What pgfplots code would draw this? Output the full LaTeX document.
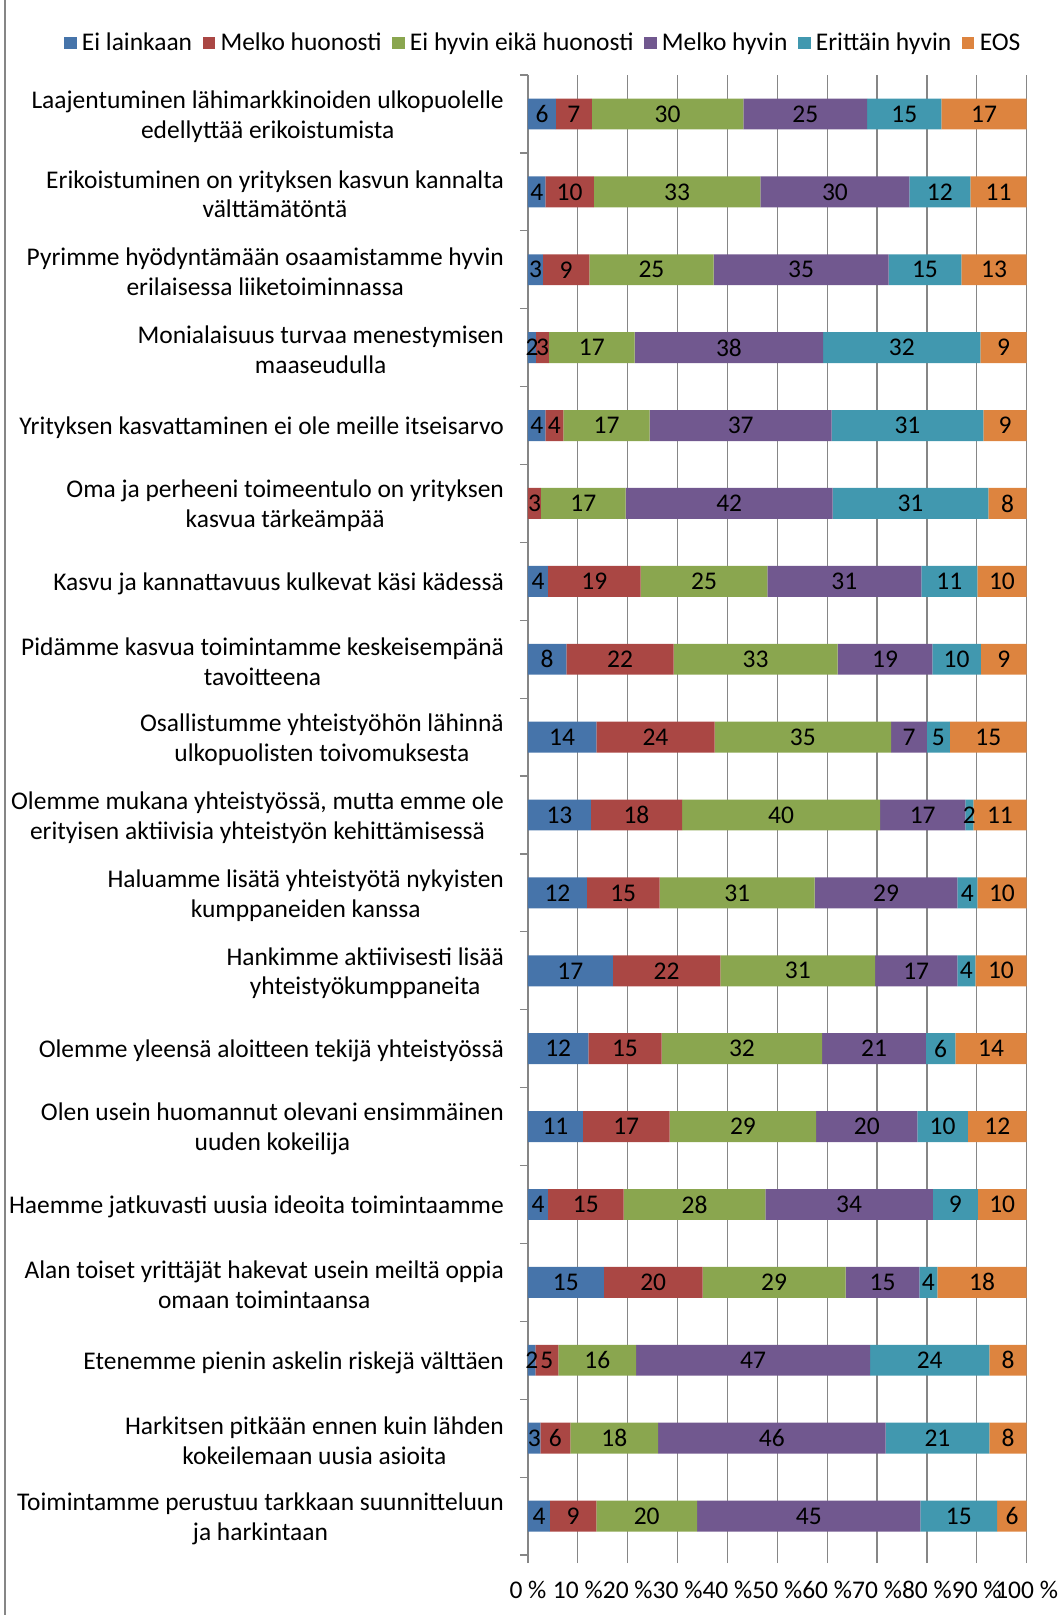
\documentclass[border=0pt]{standalone}
\usepackage{pgfplots}
\pgfplotsset{compat=1.18}
\usepackage{fontspec}
\setmainfont{Carlito}

\definecolor{cBlue}{RGB}{70,116,170}
\definecolor{cRed}{RGB}{170,71,68}
\definecolor{cGreen}{RGB}{138,166,79}
\definecolor{cPurple}{RGB}{113,88,143}
\definecolor{cTeal}{RGB}{65,152,175}
\definecolor{cOrange}{RGB}{221,132,63}
\definecolor{cGrid}{RGB}{134,134,134}

\newcommand{\lbl}{\fontsize{19.1}{22.4}\selectfont}

\begin{document}
\begin{tikzpicture}
  \begin{axis}[
    at={(0,0)}, anchor=south west,
    scale only axis,
    x=3.74pt, y=58.42pt,
    xbar stacked,
    bar width=23.2pt,
    xmin=0, xmax=100,
    ymin=-0.5, ymax=18.5,
    y dir=reverse,
    axis y line*=left,
    axis x line*=bottom,
    x axis line style={draw=none},
    y axis line style={draw=cGrid, line width=0.9pt},
    xtick={0,10,...,100},
    xticklabels={0 \%,10 \%,20 \%,30 \%,40 \%,50 \%,60 \%,70 \%,80 \%,90 \%,100 \%},
    ytick={0,...,18},
    yticklabels={
      {Laajentuminen lähimarkkinoiden ulkopuolelle\\edellyttää erikoistumista},
      {Erikoistuminen on yrityksen kasvun kannalta\\välttämätöntä},
      {Pyrimme hyödyntämään osaamistamme hyvin\\erilaisessa liiketoiminnassa},
      {Monialaisuus turvaa menestymisen\\maaseudulla},
      {Yrityksen kasvattaminen ei ole meille itseisarvo},
      {Oma ja perheeni toimeentulo on yrityksen\\kasvua tärkeämpää},
      {Kasvu ja kannattavuus kulkevat käsi kädessä},
      {Pidämme kasvua toimintamme keskeisempänä\\tavoitteena},
      {Osallistumme yhteistyöhön lähinnä\\ulkopuolisten toivomuksesta},
      {Olemme mukana yhteistyössä, mutta emme ole\\erityisen aktiivisia yhteistyön kehittämisessä},
      {Haluamme lisätä yhteistyötä nykyisten\\kumppaneiden kanssa},
      {Hankimme aktiivisesti lisää\\yhteistyökumppaneita},
      {Olemme yleensä aloitteen tekijä yhteistyössä},
      {Olen usein huomannut olevani ensimmäinen\\uuden kokeilija},
      {Haemme jatkuvasti uusia ideoita toimintaamme},
      {Alan toiset yrittäjät hakevat usein meiltä oppia\\omaan toimintaansa},
      {Etenemme pienin askelin riskejä välttäen},
      {Harkitsen pitkään ennen kuin lähden\\kokeilemaan uusia asioita},
      {Toimintamme perustuu tarkkaan suunnitteluun\\ja harkintaan}
    },
    minor ytick={-0.5,0.5,...,18.5},
    tick align=outside,
    major tick length=6pt,
    minor tick length=6pt,
    major y tick style={draw=none},
    minor y tick style={draw=cGrid, line width=0.9pt},
    major x tick style={draw=cGrid, line width=0.9pt},
    xmajorgrids,
    grid style={draw=cGrid, line width=0.9pt},
    tick label style={font=\lbl},
    yticklabel style={align=center, xshift=-8.6pt, yshift=-1.8pt},
    xticklabel style={yshift=-10pt},
    point meta=explicit symbolic,
    nodes near coords,
    every node near coord/.append style={font=\lbl, anchor=center, text=black},
    legend columns=-1,
    legend style={at={(axis description cs:0.034,1.0216)}, anchor=center,
      draw=none, font=\lbl, inner xsep=0pt,
      nodes={inner xsep=4pt},
      /tikz/every even column/.append style={column sep=4pt}},
    legend image code/.code={\fill[#1] (0pt,-4.6pt) rectangle (9.3pt,4.6pt);},
  ]
    \addplot[fill=cBlue, draw=none] coordinates {
      (5.6,0)[6] (3.5,1)[4] (3.0,2)[3] (1.6,3)[2] (3.5,4)[4] (0,5)[\relax]
      (4.0,6)[4] (7.7,7)[8] (13.7,8)[14] (12.6,9)[13] (11.8,10)[12] (17.0,11)[17]
      (12.1,12)[12] (11.0,13)[11] (4.0,14)[4] (15.2,15)[15] (1.5,16)[2] (2.5,17)[3] (4.4,18)[4]
    };
    \addplot[fill=cRed, draw=none] coordinates {
      (7.2,0)[7] (9.7,1)[10] (9.3,2)[9] (2.6,3)[3] (3.6,4)[4] (2.6,5)[3]
      (18.6,6)[19] (21.5,7)[22] (23.7,8)[24] (18.3,9)[18] (14.6,10)[15] (21.6,11)[22]
      (14.7,12)[15] (17.4,13)[17] (15.2,14)[15] (19.8,15)[20] (4.6,16)[5] (6.0,17)[6] (9.3,18)[9]
    };
    \addplot[fill=cGreen, draw=none] coordinates {
      (30.4,0)[30] (33.4,1)[33] (24.9,2)[25] (17.2,3)[17] (17.3,4)[17] (17.0,5)[17]
      (25.4,6)[25] (32.9,7)[33] (35.4,8)[35] (39.7,9)[40] (31.1,10)[31] (31.0,11)[31]
      (32.2,12)[32] (29.4,13)[29] (28.4,14)[28] (28.7,15)[29] (15.6,16)[16] (17.6,17)[18] (20.2,18)[20]
    };
    \addplot[fill=cPurple, draw=none] coordinates {
      (24.8,0)[25] (29.9,1)[30] (35.1,2)[35] (37.8,3)[38] (36.5,4)[37] (41.5,5)[42]
      (30.9,6)[31] (19.0,7)[19] (7.2,8)[7] (17.1,9)[17] (28.6,10)[29] (16.5,11)[17]
      (20.8,12)[21] (20.3,13)[20] (33.6,14)[34] (14.8,15)[15] (46.9,16)[47] (45.6,17)[46] (44.8,18)[45]
    };
    \addplot[fill=cTeal, draw=none] coordinates {
      (14.9,0)[15] (12.2,1)[12] (14.6,2)[15] (31.5,3)[32] (30.4,4)[31] (31.2,5)[31]
      (11.2,6)[11] (9.7,7)[10] (4.6,8)[5] (1.6,9)[2] (4.0,10)[4] (3.6,11)[4]
      (5.9,12)[6] (10.1,13)[10] (9.0,14)[9] (3.6,15)[4] (23.9,16)[24] (20.8,17)[21] (15.4,18)[15]
    };
    \addplot[fill=cOrange, draw=none] coordinates {
      (17.1,0)[17] (11.3,1)[11] (13.1,2)[13] (9.3,3)[9] (8.7,4)[9] (7.7,5)[8]
      (9.9,6)[10] (9.2,7)[9] (15.4,8)[15] (10.7,9)[11] (9.9,10)[10] (10.3,11)[10]
      (14.3,12)[14] (11.8,13)[12] (9.8,14)[10] (17.9,15)[18] (7.5,16)[8] (7.5,17)[8] (5.9,18)[6]
    };
    \legend{Ei lainkaan, Melko huonosti, Ei hyvin eikä huonosti, Melko hyvin, Erittäin hyvin, EOS}
  \end{axis}
  \draw[cGrid, line width=1.5pt] (-392.25pt,-45pt) -- (-392.25pt,1166.25pt);
  \pgfresetboundingbox
  \path (-396pt,-45pt) rectangle (399.75pt,1166.25pt);
\end{tikzpicture}
\end{document}
